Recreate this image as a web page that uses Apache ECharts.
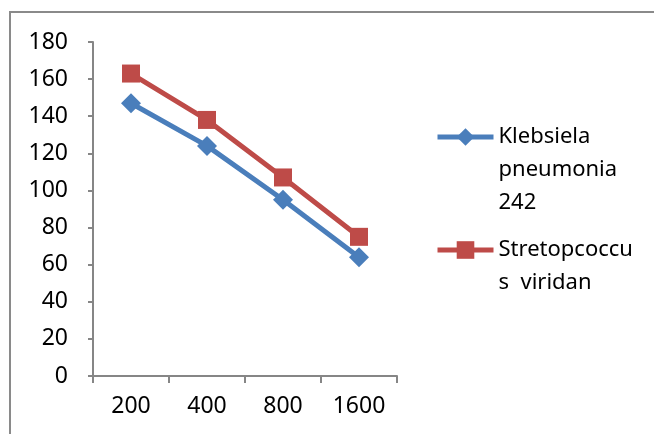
<!DOCTYPE html>
<html>
<head>
<meta charset="utf-8">
<script src="https://cdn.jsdelivr.net/npm/echarts@6/dist/echarts.min.js"></script>
<style>html,body{margin:0;padding:0;background:#fff;}#c{width:654px;height:434px;}</style>
</head>
<body>
<div id="c"></div>
<script>
var categories = ['200', '400', '800', '1600'];
var klebsiela = [147, 124, 95, 64];
var strepto = [163, 138, 107, 75];
var seriesNames = ['Klebsiela pneumonia 242', 'Stretopcoccus viridan'];
var legendLabels = ['\n\nKlebsiela\npneumonia\n242', '\nStretopcoccu\ns  viridan'];

var FONT = 'Noto Sans';
var chart = echarts.init(document.getElementById('c'), null, {renderer: 'canvas'});
var legendText = {color: '#000', fontSize: 22, fontFamily: FONT, lineHeight: 33};
function legendCfg(i, top) {
  return {
    data: [seriesNames[i]], left: 435, top: top, padding: 0, orient: 'vertical',
    itemWidth: 56, itemHeight: 22, itemGap: 5,
    lineStyle: {width: 5},
    formatter: function () { return legendLabels[i]; },
    textStyle: legendText
  };
}
chart.setOption({
  animation: false,
  backgroundColor: '#fff',
  graphic: [{
    type: 'rect', silent: true,
    shape: {x: 10, y: 12, width: 700, height: 500},
    style: {fill: 'none', stroke: '#8a8a8a', lineWidth: 2}
  }],
  grid: {left: 93, right: 257, top: 42, bottom: 58, containLabel: false},
  legend: [legendCfg(0, 54.5), legendCfg(1, 200.5)],
  xAxis: {
    type: 'category', data: categories, boundaryGap: true,
    axisLine: {lineStyle: {color: '#868686', width: 2}},
    axisTick: {show: true, length: 7, lineStyle: {color: '#868686', width: 2}},
    axisLabel: {color: '#000', fontSize: 23, fontFamily: FONT, margin: 19}
  },
  yAxis: {
    type: 'value', min: 0, max: 180, interval: 20,
    splitLine: {show: false},
    axisLine: {show: true, lineStyle: {color: '#868686', width: 2}},
    axisTick: {show: true, length: 5, lineStyle: {color: '#868686', width: 2}},
    axisLabel: {color: '#000', fontSize: 23, fontFamily: FONT, margin: 25}
  },
  series: [{
    name: seriesNames[0], type: 'line', data: klebsiela,
    symbol: 'diamond', symbolSize: 20,
    itemStyle: {color: '#4A7EBB'},
    lineStyle: {color: '#4A7EBB', width: 5}
  }, {
    name: seriesNames[1], type: 'line', data: strepto,
    symbol: 'rect', symbolSize: 18,
    itemStyle: {color: '#BE4B48'},
    lineStyle: {color: '#BE4B48', width: 5}
  }]
});
</script>
</body>
</html>
